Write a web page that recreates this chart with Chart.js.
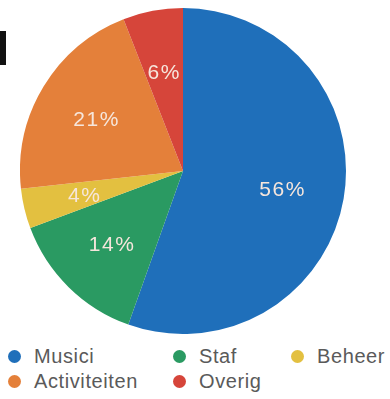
<!DOCTYPE html>
<html>
<head>
<meta charset="utf-8">
<script src="https://cdn.jsdelivr.net/npm/chart.js@4"></script>
<style>
  html, body { margin: 0; padding: 0; background: #fff; }
  body { width: 390px; height: 399px; position: relative; overflow: hidden; font-family: "Liberation Sans", Arial, sans-serif; }
  #pieBox { position: absolute; left: 20px; top: 8px; width: 326px; height: 326px; }
  #mark { position: absolute; left: 0; top: 31px; width: 6px; height: 34px; background: #111; }
  .item { position: absolute; height: 22px; line-height: 22px; font-size: 20px; letter-spacing: 0.6px; color: #5a5a5a; white-space: nowrap; }
  .dot { position: absolute; left: 0; top: 5px; width: 13px; height: 13px; border-radius: 50%; }
  .item span { position: absolute; left: 26px; top: 0; }
</style>
</head>
<body>
<div id="mark"></div>
<div id="pieBox"><canvas id="pie"></canvas></div>
<div id="legend"></div>
<script>
const labels = ['Musici', 'Staf', 'Beheer', 'Activiteiten', 'Overig'];
const values = [56, 14, 4, 21, 6];
const colors = ['#1f6fba', '#2a9a62', '#e3c040', '#e4803a', '#d6453a'];

// legend grid: which column / row each label goes in
const legendCols = [0, 1, 2, 0, 1];
const legendRows = [0, 0, 0, 1, 1];
const colX = [8, 173, 291];
const rowY = [345, 370];

// draw the percentage labels inside the slices
const sliceLabels = {
  id: 'sliceLabels',
  afterDatasetsDraw(chart) {
    const ctx = chart.ctx;
    const meta = chart.getDatasetMeta(0);
    ctx.save();
    ctx.font = '21px "Liberation Sans", Arial, sans-serif';
    ctx.letterSpacing = '1.5px';
    ctx.fillStyle = '#f6e6dc';
    ctx.textAlign = 'center';
    ctx.textBaseline = 'middle';
    meta.data.forEach((arc, i) => {
      const mid = (arc.startAngle + arc.endAngle) / 2;
      const r = arc.outerRadius * 0.62;
      ctx.fillText(values[i] + '%', arc.x + Math.cos(mid) * r, arc.y + Math.sin(mid) * r + 2);
    });
    ctx.restore();
  }
};

new Chart(document.getElementById('pie'), {
  type: 'pie',
  data: {
    labels: labels,
    datasets: [{
      data: values,
      backgroundColor: colors,
      borderWidth: 0
    }]
  },
  options: {
    responsive: true,
    maintainAspectRatio: false,
    animation: false,
    layout: { padding: 0 },
    plugins: {
      legend: { display: false },
      tooltip: { enabled: false }
    }
  },
  plugins: [sliceLabels]
});

// HTML legend, laid out as a grid
const legend = document.getElementById('legend');
labels.forEach((name, i) => {
  const item = document.createElement('div');
  item.className = 'item';
  item.style.left = colX[legendCols[i]] + 'px';
  item.style.top = rowY[legendRows[i]] + 'px';
  item.innerHTML = `<div class="dot" style="background:${colors[i]}"></div><span>${name}</span>`;
  legend.appendChild(item);
});
</script>
</body>
</html>
